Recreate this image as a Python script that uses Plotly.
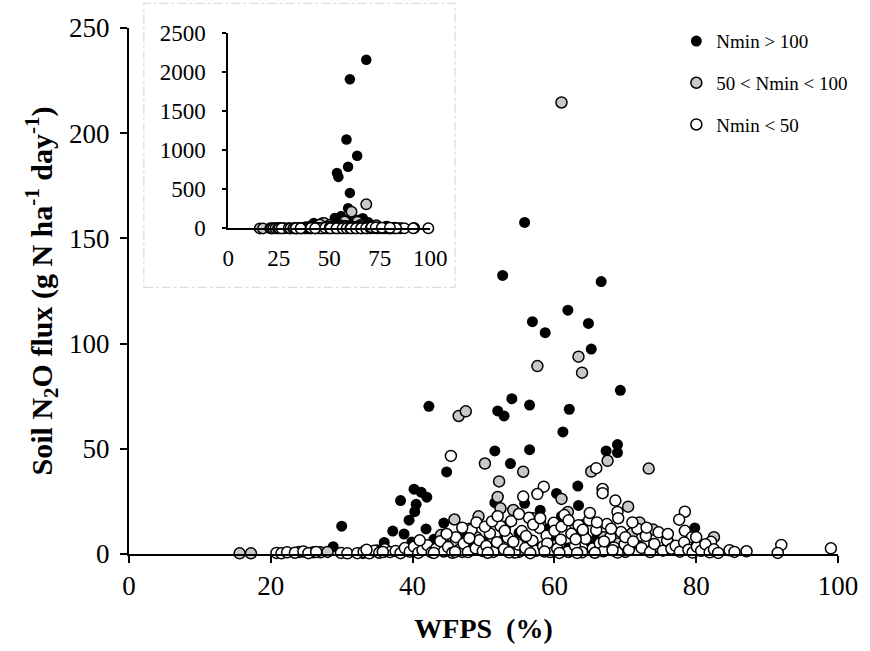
import plotly.graph_objects as go

# ---------------- data (WFPS %, N2O flux g N ha-1 day-1) ----------------
black_x = [68.3, 60.2, 58.5, 63.8, 59.3, 53.8, 54.5, 60.2, 59.3,
           55.8, 52.7, 61.9, 56.9, 58.7, 66.6, 64.8, 65.2, 69.3, 62.1, 61.2,
           42.3, 54.0, 56.5, 52.0, 52.9, 51.6, 56.5, 68.9, 67.3, 68.9, 53.8,
           44.8, 63.3, 60.3, 51.6, 55.8, 58.0, 63.4, 40.2, 41.2, 42.0, 38.3,
           40.5, 40.3, 39.5, 30.0, 37.2, 38.8, 41.9, 44.4, 36.0, 39.9, 28.8,
           79.8, 45.0, 48.0, 50.0, 53.0, 57.0, 60.0, 62.0, 65.0, 70.0, 78.0,
           35.0, 43.0, 47.0, 55.0, 59.0, 64.0, 66.0, 72.0, 80.0, 61.0]
black_y = [2160, 1910, 1140, 930, 790, 710, 660, 455, 258,
           157.6, 132.4, 115.9, 110.4, 105.2, 129.5, 109.6, 97.4, 77.8, 68.8, 58.0,
           70.2, 73.8, 70.8, 68.0, 65.6, 49.0, 49.6, 52.0, 49.0, 48.2, 43.0,
           39.0, 32.3, 28.8, 24.4, 24.1, 20.8, 23.1, 30.8, 29.4, 27.0, 25.4,
           23.6, 20.1, 16.1, 13.2, 10.9, 9.5, 11.9, 14.7, 5.5, 5.7, 3.5,
           12.4, 4.0, 3.0, 6.0, 8.0, 5.0, 9.0, 3.0, 6.0, 2.0, 3.0,
           2.0, 7.0, 9.0, 10.0, 12.0, 14.0, 8.0, 4.0, 6.0, 18.0]

gray_x = [68.3, 61.0, 57.6, 63.4, 63.9, 46.5, 47.5, 50.2, 67.5, 55.6, 65.2,
          52.2, 61.0, 52.0, 52.4, 54.2, 61.9, 70.4, 49.3, 45.9, 73.3, 73.9,
          82.5, 15.6, 17.2, 26.0, 27.0, 28.0, 24.0, 36.0, 43.0, 46.0, 48.0,
          50.0, 53.0, 56.0, 58.0, 60.0, 63.0, 65.0, 67.0, 69.0, 71.0, 74.0,
          76.0, 80.0, 33.0, 41.0, 55.0, 62.0, 66.0, 44.0, 57.0, 49.0, 64.0,
          72.0, 47.0, 70.0]
gray_y = [310, 214.6, 89.3, 93.8, 86.2, 65.6, 67.8, 43.0, 44.3, 39.1, 39.2,
          34.5, 26.2, 27.1, 21.7, 20.9, 20.0, 22.5, 17.9, 16.4, 40.6, 11.7,
          8.0, 0.3, 0.3, 0.8, 0.8, 1.0, 1.0, 1.2, 2.0, 5.0, 12.0,
          3.0, 13.0, 7.0, 14.0, 4.0, 13.0, 16.0, 8.0, 5.0, 10.0, 3.0,
          6.0, 2.0, 0.5, 1.5, 1.0, 1.0, 2.0, 9.0, 17.0, 8.0, 10.0,
          15.0, 1.0, 1.0]

white_x = [45.4, 58.5, 57.6, 55.6, 66.8, 66.8, 65.9, 68.6, 68.9, 78.4, 77.6,
           82.1, 84.7, 85.4, 87.1, 92.0, 91.5, 99.0, 78.4, 79.4,
           20.8, 21.5, 22.3, 23.4, 24.6, 25.3, 26.4, 29.9, 30.8,
           32.2, 33.1, 33.9, 34.6, 35.3, 36.1, 36.8, 37.6, 38.3, 38.9, 39.6, 40.2, 33.5, 35.8,
           40.8, 41.4, 42.1, 42.7, 43.3, 43.9, 44.4, 45.0, 45.6, 46.1, 46.6, 47.2, 47.8,
           48.3, 48.9, 49.4, 49.9, 41.0, 44.8, 47.0, 49.0, 46.0, 43.0, 48.0,
           50.4, 50.9, 51.4, 51.9, 52.4, 52.9, 53.4, 53.9, 54.4, 54.9, 55.4, 55.9,
           56.4, 56.9, 57.4, 57.9, 58.4, 58.9, 59.4, 59.9, 50.2, 51.2, 52.0, 53.0,
           54.2, 55.0, 56.0, 57.0, 58.0, 59.0, 60.0, 50.6, 53.6, 56.6, 58.6,
           60.4, 60.9, 61.4, 61.9, 62.4, 62.9, 63.4, 63.9, 64.4, 64.9, 65.4, 65.9,
           66.4, 66.9, 67.4, 67.9, 68.4, 68.9, 69.4, 69.9, 61.0, 62.0, 63.0, 64.0,
           65.0, 66.0, 67.0, 68.0, 69.0, 70.0, 60.7, 63.2, 65.7, 68.2,
           70.5, 71.1, 71.7, 72.3, 72.9, 73.5, 74.1, 74.7, 75.3, 75.9, 76.5, 77.1,
           77.7, 78.3, 78.9, 79.5, 80.1, 80.7, 81.3, 81.9, 82.5, 83.1, 71.0, 73.0,
           76.0, 80.0]
white_y = [46.6, 32.0, 28.5, 27.3, 30.9, 28.9, 40.8, 25.4, 20.0, 20.1, 16.3,
           5.8, 1.8, 1.0, 1.3, 4.3, 0.5, 2.7, 11.0, 8.0,
           0.5, 0.3, 0.8, 0.6, 1.2, 0.4, 1.0, 0.5, 0.3,
           0.4, 1.0, 0.3, 1.5, 0.6, 2.2, 0.9, 1.4, 0.4, 2.8, 1.1, 3.5, 2.0, 1.0,
           0.5, 1.8, 4.2, 0.8, 2.5, 6.1, 1.2, 3.3, 0.6, 8.0, 2.0, 4.9, 0.9,
           11.5, 2.7, 6.5, 1.4, 6.5, 9.5, 12.5, 15.0, 1.0, 0.5, 7.5,
           3.8, 9.8, 1.0, 5.6, 13.2, 2.3, 7.8, 15.6, 0.7, 4.5, 10.9, 2.8,
           17.2, 6.3, 1.5, 12.4, 3.6, 8.7, 0.9, 14.8, 13.0, 15.5, 18.0, 11.0,
           5.8, 19.0, 8.5, 14.0, 17.0, 5.0, 11.0, 0.6, 0.8, 0.4, 1.2,
           2.5, 6.8, 18.5, 1.1, 9.6, 4.0, 13.7, 0.8, 7.2, 16.1, 2.6, 11.3,
           5.0, 1.3, 14.2, 8.1, 3.1, 0.7, 10.4, 4.6, 13.0, 16.0, 7.0, 11.5,
           19.5, 15.0, 6.0, 12.0, 17.0, 8.0, 0.5, 0.5, 0.6, 1.8,
           1.9, 6.0, 12.0, 2.9, 8.6, 0.9, 4.8, 10.3, 1.6, 6.4, 2.5, 3.9,
           1.1, 5.5, 2.0, 0.7, 3.4, 1.5, 4.6, 0.8, 2.2, 0.5, 15.0, 12.5,
           9.5, 8.0]

series = [
    ("Nmin > 100", black_x, black_y, "black", 0),
    ("50 < Nmin < 100", gray_x, gray_y, "#c8c8c8", 1.5),
    ("Nmin < 50", white_x, white_y, "white", 1.5),
]

main_y_max = 250
FONT = "Liberation Serif, Times New Roman, serif"

fig = go.Figure()
for name, xs, ys, col, lw in series:
    pts = [(a, b) for a, b in zip(xs, ys) if b <= main_y_max]
    fig.add_trace(go.Scatter(
        x=[p[0] for p in pts], y=[p[1] for p in pts], mode="markers", name=name,
        legendgroup=name, cliponaxis=False,
        marker=dict(size=11, color=col, line=dict(color="black", width=lw)),
        xaxis="x", yaxis="y"))
for name, xs, ys, col, lw in series:
    fig.add_trace(go.Scatter(
        x=xs, y=ys, mode="markers", name=name, showlegend=False,
        legendgroup=name, cliponaxis=False,
        marker=dict(size=10.5, color=col, line=dict(color="black", width=lw)),
        xaxis="x2", yaxis="y2"))

axis_common = dict(showline=True, linecolor="black", linewidth=2,
                   tickcolor="black", tickwidth=1.5, showgrid=False, zeroline=False)

fig.update_layout(
    width=870, height=651,
    margin=dict(l=129, r=26, t=28, b=96),
    paper_bgcolor="white", plot_bgcolor="white",
    font=dict(family=FONT, color="black"),
    xaxis=dict(range=[0, 100], tickvals=[0, 20, 40, 60, 80, 100], ticks="outside", ticklen=7,
               tickfont=dict(size=27, family=FONT),
               title=dict(text="WFPS  (%)", font=dict(size=28, family=FONT, weight="bold"),
                          standoff=18),
               **axis_common),
    yaxis=dict(range=[0, 250], tickvals=[0, 50, 100, 150, 200, 250], ticks="outside", ticklen=7,
               tickfont=dict(size=27, family=FONT), ticklabelstandoff=5,
               title=dict(text="Soil N<sub>2</sub>O flux (g N ha<sup>-1</sup> day<sup>-1</sup>)",
                          font=dict(size=30, family=FONT, weight="bold"), standoff=8),
               **axis_common),
    xaxis2=dict(domain=[0.140, 0.425], range=[0, 100], tickvals=[0, 25, 50, 75, 100],
                ticks="", tickfont=dict(size=23, family=FONT), ticklabelstandoff=8,
                anchor="y2", **axis_common),
    yaxis2=dict(domain=[0.619, 0.990], range=[0, 2500],
                tickvals=[0, 500, 1000, 1500, 2000, 2500], ticks="outside", ticklen=4,
                tickfont=dict(size=23, family=FONT), ticklabelstandoff=12, anchor="x2",
                **axis_common),
    legend=dict(x=0.772, y=1.011, xanchor="left", yanchor="top",
                font=dict(size=19, family=FONT), tracegroupgap=14,
                bgcolor="rgba(0,0,0,0)", itemwidth=30),
    shapes=[dict(type="rect", xref="paper", yref="paper",
                 x0=0.021, x1=0.460, y0=0.507, y1=1.047,
                 line=dict(color="#d4d4d4", width=1, dash="dashdot"),
                 layer="below")],
)

fig.write_html("out.html", config={"displayModeBar": False},
               post_script="document.body.style.margin='0';")
